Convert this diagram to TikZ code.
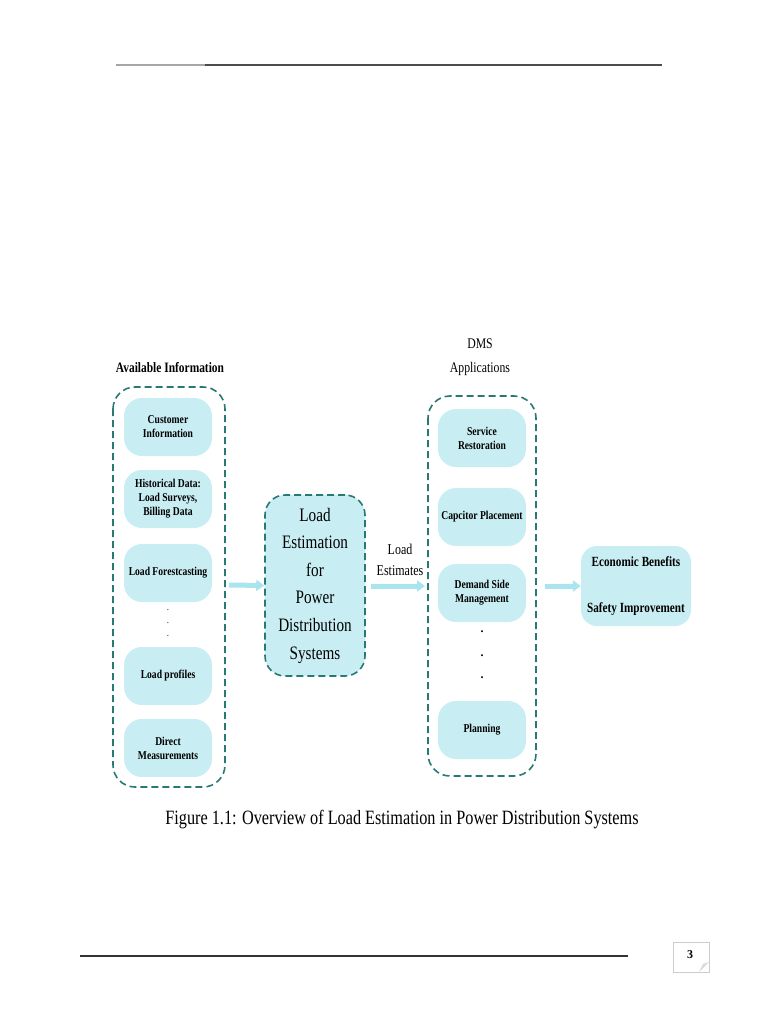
\documentclass[tikz,border=0pt]{standalone}
\usepackage{fontspec}
\setmainfont{Liberation Serif}
\newfontfamily\cond[FakeStretch=0.8]{Liberation Serif}
\usetikzlibrary{arrows.meta}
\definecolor{boxfill}{RGB}{200,238,243}
\definecolor{teal}{RGB}{40,120,115}
\definecolor{arrowc}{RGB}{170,228,238}
\begin{document}
\begin{tikzpicture}[x=1pt,y=-1pt,
  inbox/.style={fill=boxfill, rounded corners=18pt, minimum width=88pt, minimum height=58pt, align=center, font=\cond\fontsize{12}{14}\selectfont\bfseries, inner sep=2pt},
  group/.style={draw=teal, dashed, dash pattern=on 7pt off 4pt, line width=1.6pt, rounded corners=22pt},
  lbl/.style={align=center, font=\cond\fontsize{14.7}{22}\selectfont},
  flow/.style={arrowc, line width=5pt, -{Triangle[length=8pt,width=11pt]}},
  dotn/.style={inner sep=0pt, font=\fontsize{9}{9}\selectfont}
]
\useasboundingbox (0,0) rectangle (768,1024);
% header and footer rules
\draw[line width=1.2pt, gray!70] (116,65) -- (205,65);
\draw[line width=1.2pt, black!70] (205,65) -- (662,65);
\draw[line width=1.2pt, black!80] (80,956) -- (628,956);
\node[draw=gray!40, fill=white, minimum width=36pt, minimum height=30pt, inner sep=0pt] (pg) at (691,957) {};
\node[font=\fontsize{12}{12}\selectfont\bfseries] (pgn) at (690,955) {3};
\fill[gray!30] (699,972) -- (709,962) -- (703,964) -- cycle;

% left group
\node[lbl, font=\cond\fontsize{14.3}{16}\selectfont\bfseries] (availlbl) at (170,368) {Available Information};
\draw[group] (113,387) rectangle (225,787);
\node[inbox] (cust) at (168,427) {Customer\\Information};
\node[inbox] (hist) at (168,499) {Historical Data:\\Load Surveys,\\Billing Data};
\node[inbox] (fore) at (168,573) {Load Forestcasting};
\node[dotn] (ld1) at (168,610) {.};
\node[dotn] (ld2) at (168,623) {.};
\node[dotn] (ld3) at (168,636) {.};
\node[inbox] (prof) at (168,676) {Load profiles};
\node[inbox] (meas) at (168,748) {Direct\\Measurements};

% center box
\node[fill=boxfill, draw=teal, dashed, dash pattern=on 7pt off 4pt, line width=1.6pt, rounded corners=20pt, minimum width=100pt, minimum height=181pt, align=center, font=\cond\fontsize{19}{27.6}\selectfont] (core) at (315,585.5) {Load\\Estimation\\for\\Power\\Distribution\\Systems};

\coordinate (lgE) at (229,585);
\draw[flow] (lgE) -- (core.west);

% right group
\node[lbl, font=\cond\fontsize{14.7}{24}\selectfont] (dmslbl) at (480,357) {DMS\\Applications};
\draw[group] (428,396) rectangle (536,776);
\coordinate (rgW) at (428,586);
\coordinate (rgE) at (540,586);
\node[inbox] (serv) at (482,438) {Service\\Restoration};
\node[inbox] (cap) at (482,517) {Capcitor Placement};
\node[inbox] (dsm) at (482,593) {Demand Side\\Management};
\node[dotn, font=\fontsize{12}{12}\selectfont\bfseries] (rd1) at (482,632) {.};
\node[dotn, font=\fontsize{12}{12}\selectfont\bfseries] (rd2) at (482,656) {.};
\node[dotn, font=\fontsize{12}{12}\selectfont\bfseries] (rd3) at (482,678) {.};
\node[inbox] (plan) at (482,730) {Planning};

\draw[flow] (core.east |- rgW) ++(5,0) coordinate (cE) -- ([xshift=-3pt]rgW);
\node[lbl, font=\cond\fontsize{15}{21}\selectfont] (estlbl) at (400,560) {Load\\Estimates};

% benefits
\node[fill=boxfill, rounded corners=16pt, minimum width=110pt, minimum height=80pt, align=center, font=\cond\fontsize{14}{46}\selectfont\bfseries] (ben) at (636,586) {Economic Benefits\\Safety Improvement};
\draw[flow] ([xshift=5pt]rgE) -- (ben.west);

% caption
\node[font=\cond\fontsize{20.3}{24}\selectfont] (cap1) at (402,820) {Figure 1.1: Overview of Load Estimation in Power Distribution Systems};
\end{tikzpicture}
\end{document}
